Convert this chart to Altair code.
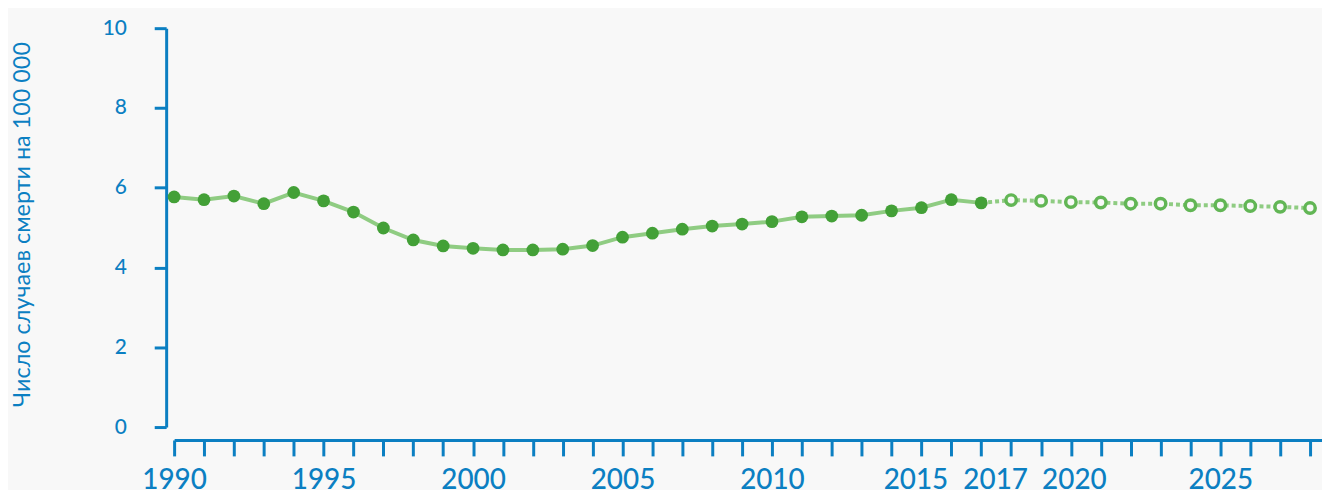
import altair as alt
import pandas as pd

# ---- data ----
actual_years = list(range(1990, 2018))
actual_values = [5.77, 5.70, 5.79, 5.60, 5.88, 5.67, 5.39, 4.99, 4.69, 4.54,
                 4.48, 4.44, 4.44, 4.46, 4.55, 4.76, 4.86, 4.96, 5.04, 5.09,
                 5.15, 5.27, 5.29, 5.31, 5.42, 5.50, 5.70, 5.62]
proj_years = list(range(2018, 2029))
proj_values = [5.69, 5.67, 5.64, 5.63, 5.60, 5.60, 5.56, 5.56, 5.54, 5.52, 5.49]

tick_years = list(range(1990, 2029))
label_years = [1990, 1995, 2000, 2005, 2010, 2015, 2017, 2020, 2025]
y_ticks = [0, 2, 4, 6, 8, 10]
y_title = "Число случаев смерти на 100 000"

BLUE = "#0b7fc2"
LINE_GREEN = "#8fcc82"
DOT_GREEN = "#43a037"
RING_GREEN = "#62b655"
BG = "#f8f8f8"
FONT = "Lato"

rows = []
for yr, v in zip(actual_years, actual_values):
    rows.append({"year": yr, "value": v, "kind": "actual"})
for yr, v in zip(proj_years, proj_values):
    rows.append({"year": yr, "value": v, "kind": "proj"})
df = pd.DataFrame(rows)
last_actual = actual_years[-1]

label_test = " || ".join(f"datum.value == {y}" for y in label_years)

x_enc = alt.X(
    "year:Q",
    scale=alt.Scale(domain=[1990, 2028.4], nice=False, zero=False),
    axis=alt.Axis(
        values=tick_years,
        labelExpr=f"({label_test}) ? format(datum.value, 'd') : ''",
        labelOverlap=False,
        labelFlush=False,
        title=None,
        grid=False,
        offset=13,
        tickSize=16,
        tickWidth=3,
        tickColor=BLUE,
        domainColor=BLUE,
        domainWidth=3,
        labelColor=BLUE,
        labelFont=FONT,
        labelFontSize=28,
        labelFontWeight=500,
        labelPadding=11,
        labelOffset={"condition": [
            {"test": "datum.value == 2015", "value": -6},
            {"test": "datum.value == 2017", "value": 14},
            {"test": "datum.value == 2020", "value": 3},
        ], "value": 0},
    ),
)

y_enc = alt.Y(
    "value:Q",
    scale=alt.Scale(domain=[0, 10], nice=False),
    axis=alt.Axis(
        values=y_ticks,
        title=y_title,
        grid=False,
        offset=8,
        tickSize=12,
        tickWidth=3,
        tickColor=BLUE,
        domainColor=BLUE,
        domainWidth=3,
        labelColor=BLUE,
        labelFont=FONT,
        labelFontSize=21,
        labelFontWeight=500,
        labelPadding=28,
        titleColor=BLUE,
        titleFont=FONT,
        titleFontSize=23.5,
        titleFontWeight="normal",
        titleBaseline="alphabetic",
        titleX=-137,
        titleY=197,
    ),
)

base = alt.Chart(df).encode(x=x_enc, y=y_enc)

solid = base.mark_line(color=LINE_GREEN, strokeWidth=4).transform_filter(
    alt.datum.kind == "actual")
dashed = base.mark_line(
    color=LINE_GREEN, strokeWidth=4, strokeDash=[4, 3]).transform_filter(
    alt.datum.year >= last_actual)
dots = base.mark_circle(color=DOT_GREEN, opacity=1, size=165).transform_filter(
    alt.datum.kind == "actual")
rings = base.mark_point(
    shape="circle", filled=False, color=RING_GREEN, fill=BG, fillOpacity=1,
    opacity=1, strokeWidth=3.5, size=110).transform_filter(
    alt.datum.kind == "proj")

chart = alt.layer(solid, dashed, dots, rings).properties(
    width=1154,
    height=401,
    padding={"left": 167, "top": 19, "right": 0, "bottom": 62},
    autosize=alt.AutoSizeParams(type="none"),
    background=BG,
).configure_view(stroke=None)

chart.save("out.html", embed_options={"renderer": "svg", "actions": False})
